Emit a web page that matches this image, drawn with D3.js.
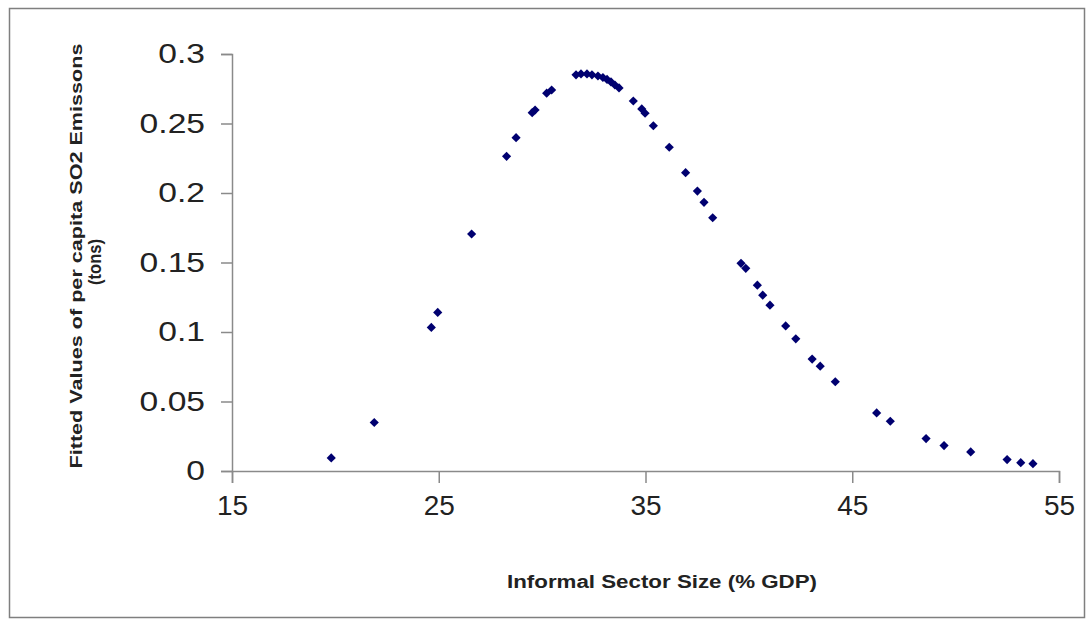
<!DOCTYPE html>
<html>
<head>
<meta charset="utf-8">
<script src="https://cdn.jsdelivr.net/npm/d3@7"></script>
<style>
  body { margin: 0; background: #fff; }
  svg { display: block; font-family: Arial, "Liberation Sans", sans-serif; }
</style>
</head>
<body>
<script>
// informal sector size (% GDP) for each fitted point
var sectorSize = [19.80, 21.88, 24.64, 24.95, 26.59, 28.28, 28.74, 29.52, 29.66, 30.22,
    30.46, 31.64, 31.88, 32.17, 32.41, 32.70, 32.94, 33.14, 33.33, 33.52,
    33.72, 34.41, 34.82, 34.98, 35.38, 36.15, 36.94, 37.51, 37.83, 38.25,
    39.62, 39.85, 40.41, 40.67, 41.02, 41.78, 42.27, 43.06, 43.45, 44.18,
    46.18, 46.84, 48.57, 49.44, 50.73, 52.49, 53.15, 53.74];

// fitted per capita SO2 emissions (tons)
var fittedSO2 = [0.0094, 0.0349, 0.1033, 0.1141, 0.1705, 0.2264, 0.2398, 0.2578, 0.2597, 0.2718,
    0.2741, 0.2850, 0.2857, 0.2857, 0.2850, 0.2842, 0.2831, 0.2817, 0.2799, 0.2777,
    0.2756, 0.2662, 0.2605, 0.2574, 0.2484, 0.2329, 0.2146, 0.2014, 0.1933, 0.1822,
    0.1494, 0.1458, 0.1337, 0.1265, 0.1193, 0.1044, 0.0951, 0.0805, 0.0754, 0.0642,
    0.0418, 0.0358, 0.0233, 0.0183, 0.0137, 0.0082, 0.0060, 0.0053];

var xTicks = [15, 25, 35, 45, 55];
var yTicks = [0, 0.05, 0.1, 0.15, 0.2, 0.25, 0.3];

var width = 1092, height = 624;

var svg = d3.select("body").append("svg")
    .attr("width", width)
    .attr("height", height);

// outer frame like the excel chart area
svg.append("rect")
    .attr("x", 9.5).attr("y", 8.5)
    .attr("width", 1075).attr("height", 609)
    .attr("fill", "#fff")
    .attr("stroke", "#7f7f7f")
    .attr("stroke-width", 1.5);

var x = d3.scaleLinear().domain([15, 55]).range([232, 1059]);
var y = d3.scaleLinear().domain([0, 0.3]).range([471, 54]);

var xAxis = svg.append("g")
    .attr("transform", "translate(0," + y(0) + ")")
    .call(d3.axisBottom(x).tickValues(xTicks).tickSize(12).tickPadding(24).tickFormat(d3.format("d")));

var yAxis = svg.append("g")
    .attr("transform", "translate(" + x(15) + ",0)")
    .call(d3.axisLeft(y).tickValues(yTicks).tickSize(11).tickPadding(16).tickFormat(function(d) { return d === 0 ? "0" : String(d); }));

[xAxis, yAxis].forEach(function(ax) {
    ax.select(".domain").attr("stroke", "#8a8a8a").attr("stroke-width", 1.5);
    ax.selectAll(".tick line").attr("stroke", "#8a8a8a").attr("stroke-width", 1.5);
    ax.selectAll(".tick text")
        .attr("fill", "#222")
        .style("font-size", "28px")
        .style("font-family", "Arial, 'Liberation Sans', sans-serif");
});

xAxis.selectAll(".tick text").attr("dy", "0.3em");

// the original labels look a bit stretched sideways
yAxis.selectAll(".tick text").each(function() {
    var len = this.getComputedTextLength();
    d3.select(this).attr("textLength", len * 1.2).attr("lengthAdjust", "spacingAndGlyphs");
});

// axis titles
svg.append("text")
    .attr("x", 662).attr("y", 588)
    .attr("text-anchor", "middle")
    .attr("font-weight", "bold")
    .attr("font-size", 18)
    .attr("fill", "#222")
    .attr("textLength", 310).attr("lengthAdjust", "spacingAndGlyphs")
    .text("Informal Sector Size (% GDP)");

var yTitle = svg.append("g")
    .attr("transform", "translate(0,256) rotate(-90)");

yTitle.append("text")
    .attr("x", 0).attr("y", 82)
    .attr("text-anchor", "middle")
    .attr("font-weight", "bold")
    .attr("font-size", 17)
    .attr("fill", "#222")
    .attr("textLength", 425).attr("lengthAdjust", "spacingAndGlyphs")
    .text("Fitted Values of per capita SO2 Emissons");

yTitle.append("text")
    .attr("x", -6).attr("y", 101)
    .attr("text-anchor", "middle")
    .attr("font-weight", "bold")
    .attr("font-size", 19)
    .attr("fill", "#222")
    .attr("textLength", 46).attr("lengthAdjust", "spacingAndGlyphs")
    .text("(tons)");

// the fitted points, drawn as excel style diamonds (square turned 45 degrees)
var pts = sectorSize.map(function(v, i) { return {x: v, y: fittedSO2[i]}; });

svg.selectAll(".pt")
    .data(pts)
    .enter().append("path")
    .attr("class", "pt")
    .attr("d", d3.symbol().type(d3.symbolSquare).size(42))
    .attr("transform", function(d) { return "translate(" + x(d.x) + "," + y(d.y) + ") rotate(45)"; })
    .attr("fill", "#000070");
</script>
</body>
</html>
